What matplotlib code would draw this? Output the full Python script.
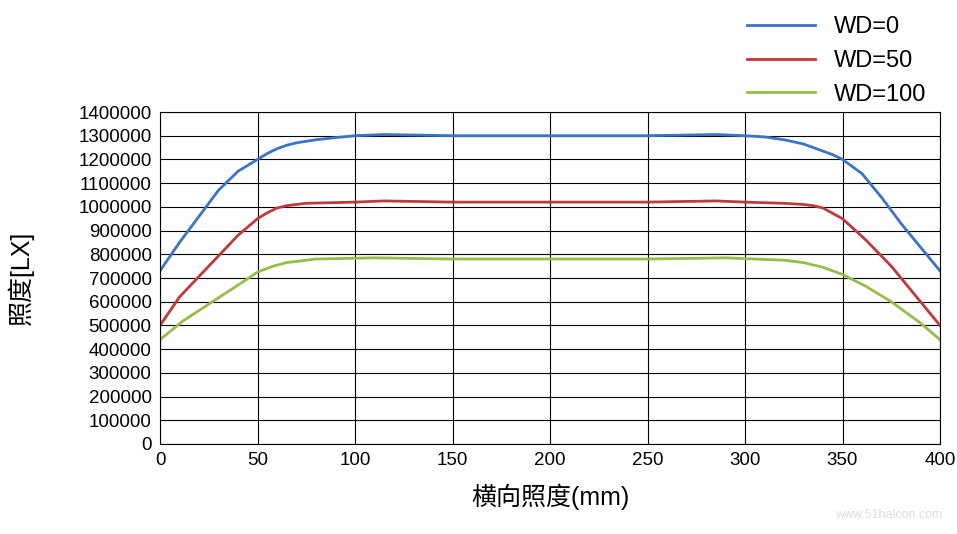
import matplotlib
matplotlib.use("Agg")
import matplotlib.pyplot as plt

plt.rcParams['font.family'] = ['Liberation Sans', 'Noto Sans CJK SC', 'DejaVu Sans']

x0 = [0,10,20,30,40,50,55,60,65,70,80,90,100,115,150,250,285,300,310,320,330,340,345,350,360,370,380,390,400]
wd0 = [730000,850000,960000,1070000,1150000,1200000,1225000,1245000,1260000,1270000,1283000,1292000,1300000,1305000,1300000,1300000,1305000,1300000,1295000,1283000,1265000,1235000,1220000,1200000,1140000,1040000,930000,830000,730000]
x50 = [0,10,25,40,50,55,60,65,75,100,115,150,250,285,300,320,330,335,340,350,362,375,390,400]
wd50 = [500000,620000,750000,880000,950000,975000,995000,1005000,1015000,1020000,1025000,1020000,1020000,1025000,1020000,1015000,1010000,1005000,995000,950000,860000,750000,600000,500000]
x100 = [0,12,25,40,50,58,65,80,110,150,250,290,320,330,340,350,362,375,390,400]
wd100 = [440000,520000,590000,670000,725000,750000,765000,780000,785000,780000,780000,785000,775000,765000,745000,715000,665000,600000,510000,440000]
labels = ["WD=0", "WD=50", "WD=100"]
colors = ["#3a74c4", "#c0393b", "#95bd48"]

fig = plt.figure(figsize=(9.57, 5.34), dpi=100)
ax = fig.add_axes([160/957, 1-444/534, 780/957, 332/534])
for xs, ys, lab, c in zip([x0, x50, x100], [wd0, wd50, wd100], labels, colors):
    ax.plot(xs, ys, color=c, lw=2, label=lab)
ax.set_xlim(0, 400)
ax.set_ylim(0, 1400000)
ax.set_xticks(range(0, 401, 50))
ax.set_yticks(range(0, 1400001, 100000))
ax.set_yticklabels([str(v) for v in range(0, 1400001, 100000)])
ax.grid(True, color='black', lw=0.8)
ax.tick_params(length=0, labelsize=13.5, pad=6)
for s in ax.spines.values():
    s.set_linewidth(0.8)
ax.set_xlabel("横向照度(mm)", fontsize=18, labelpad=10)
ax.set_ylabel("照度[LX]", fontsize=18, labelpad=32)
ax.legend(loc='lower right', bbox_to_anchor=(1.01, 0.955), frameon=False, fontsize=17,
          handlelength=2.9, labelspacing=0.5)
fig.text(0.985, 0.03, "www.51halcon.com", color='#dddddd', fontsize=9, ha='right')
fig.savefig("out.png", dpi=100)
